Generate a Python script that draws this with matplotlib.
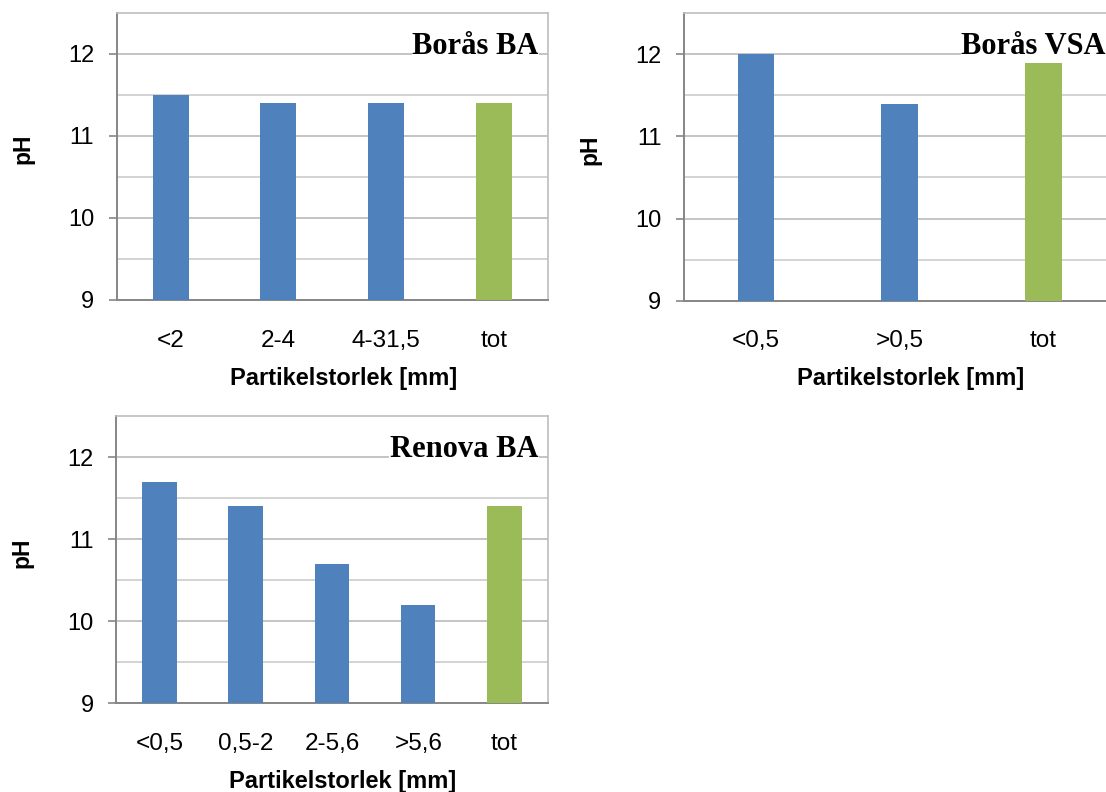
import matplotlib
matplotlib.use("Agg")
import matplotlib.pyplot as plt
import numpy as np

plt.rcParams["font.family"] = ["Liberation Sans", "DejaVu Sans"]

# pH per particle size fraction
boras_ba_labels = ["<2", "2-4", "4-31,5", "tot"]
boras_ba_ph = [11.5, 11.4, 11.4, 11.4]

boras_vsa_labels = ["<0,5", ">0,5", "tot"]
boras_vsa_ph = [12.0, 11.4, 11.9]

renova_ba_labels = ["<0,5", "0,5-2", "2-5,6", ">5,6", "tot"]
renova_ba_ph = [11.7, 11.4, 10.7, 10.2, 11.4]

y_major = [9, 10, 11, 12]
y_minor = [9.5, 10.5, 11.5]

BLUE = "#4F81BD"
GREEN = "#9BBB59"

W, H = 1106, 792
fig = plt.figure(figsize=(W / 100, H / 100), dpi=100)


def px_axes(left, top, width, height):
    return fig.add_axes([left / W, 1 - (top + height) / H, width / W, height / H])


def panel(ax, labels, values, title, bar_width):
    x = np.arange(len(labels))
    colors = [BLUE] * (len(labels) - 1) + [GREEN]
    ax.bar(x, values, width=bar_width, color=colors, zorder=3)
    ax.set_xlim(-0.5, len(labels) - 0.5)
    ax.set_ylim(9, 12.5)
    ax.set_yticks(y_major)
    ax.set_yticks(y_minor, minor=True)
    ax.yaxis.grid(True, which="major", color="#b4b4b4", lw=1.1)
    ax.yaxis.grid(True, which="minor", color="#c8c8c8", lw=1.1)
    ax.set_axisbelow(True)
    ax.set_xticks(x, labels)
    ax.tick_params(axis="x", length=0, pad=21.5, labelsize=17.5)
    ax.tick_params(axis="y", which="major", length=5.8, width=1.2,
                   color="#868686", pad=10.5, labelsize=17)
    ax.tick_params(axis="y", which="minor", length=0)
    for side in ("left", "bottom"):
        ax.spines[side].set_color("#868686")
        ax.spines[side].set_linewidth(1.4)
    for side in ("top", "right"):
        ax.spines[side].set_color("#bdbdbd")
        ax.spines[side].set_linewidth(1.2)
    ax.set_xlabel("Partikelstorlek [mm]", fontsize=17, fontweight="bold")
    ax.xaxis.set_label_coords(0.525, -0.2715)
    ax.xaxis.label.set_va("center")
    ax.set_ylabel("pH", fontsize=16.5, fontweight="bold")
    ax.yaxis.set_label_coords(-0.218, 0.5256)
    ax.yaxis.label.set_va("center")
    ax.text(0.978, 0.857, title, transform=ax.transAxes, ha="right",
            va="baseline", fontsize=22, fontweight="bold",
            family=["Liberation Serif", "DejaVu Serif"], zorder=5,
            bbox=dict(facecolor="white", edgecolor="none", pad=0.5))


ax1 = px_axes(116.7, 12.7, 431.3, 287.3)
panel(ax1, boras_ba_labels, boras_ba_ph, "Borås BA", 0.334)

ax2 = px_axes(684, 13.3, 431.3, 287.3)
panel(ax2, boras_vsa_labels, boras_vsa_ph, "Borås VSA", 0.255)

ax3 = px_axes(116.3, 416, 431.3, 287.3)
panel(ax3, renova_ba_labels, renova_ba_ph, "Renova BA", 0.40)

fig.savefig("out.png", dpi=100)
